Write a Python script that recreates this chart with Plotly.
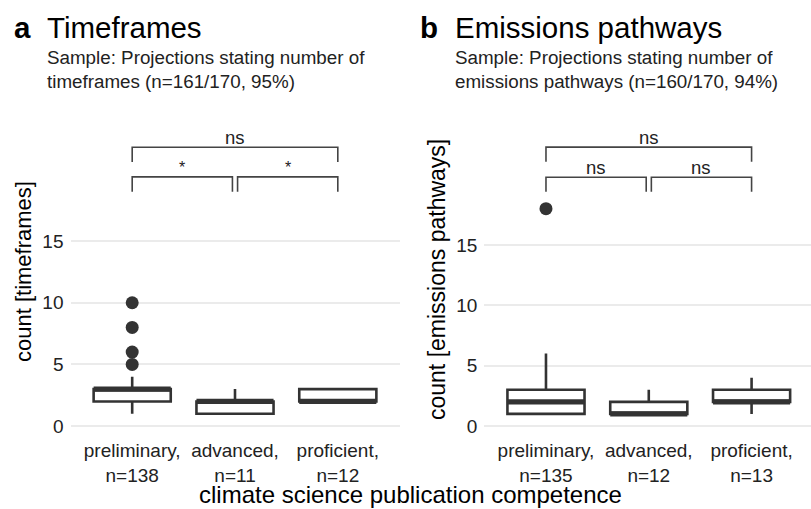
import plotly.graph_objects as go

# ---------------- data ----------------
categories = ["preliminary", "advanced", "proficient"]
n_time = [138, 11, 12]
n_emis = [135, 12, 13]

# panel a: timeframes (box statistics)
time_lower = [1, 1, 2]
time_q1 = [2, 1, 2]
time_median = [3, 2, 2]
time_q3 = [3, 2, 3]
time_upper = [4, 3, 3]
time_outliers = {"preliminary": [5, 6, 8, 10], "advanced": [], "proficient": []}

# panel b: emissions pathways (box statistics)
emis_lower = [1, 1, 1]
emis_q1 = [1, 1, 2]
emis_median = [2, 1, 2]
emis_q3 = [3, 2, 3]
emis_upper = [6, 3, 4]
emis_outliers = {"preliminary": [18], "advanced": [], "proficient": []}

# significance labels: (from, to, label)
time_sig = [(1, 3, "ns"), (1, 2, "*"), (2, 3, "*")]
emis_sig = [(1, 3, "ns"), (1, 2, "ns"), (2, 3, "ns")]

y_ticks = [0, 5, 10, 15]

FONT = "Liberation Sans, Arial, sans-serif"
DARK = "#333333"
W, H = 811, 509

fig = go.Figure()

BOXW = 0.75


def add_panel(xa, ya, lower, q1, med, q3, upper, outliers, sig, levels):
    xs = [1, 2, 3]
    for i, c in enumerate(categories):
        fig.add_trace(go.Box(
            x=[xs[i]], q1=[q1[i]], median=[med[i]], q3=[q3[i]],
            lowerfence=[lower[i]], upperfence=[upper[i]],
            width=BOXW, fillcolor="white",
            line=dict(color=DARK, width=2.6), whiskerwidth=0,
            boxpoints=False, xaxis=xa, yaxis=ya, showlegend=False,
            hoverinfo="skip"))
        # thick median line
        fig.add_trace(go.Scatter(
            x=[xs[i] - BOXW / 2, xs[i] + BOXW / 2], y=[med[i], med[i]],
            mode="lines", line=dict(color=DARK, width=5.2),
            xaxis=xa, yaxis=ya, showlegend=False, hoverinfo="skip"))
        if outliers[c]:
            fig.add_trace(go.Scatter(
                x=[xs[i]] * len(outliers[c]), y=outliers[c], mode="markers",
                marker=dict(color=DARK, size=13),
                xaxis=xa, yaxis=ya, showlegend=False, hoverinfo="skip"))
    # significance brackets
    top, top_tip, low, low_tip = levels
    for (a, b, lab) in sig:
        if a == 1 and b == 3:
            yb, yt = top, top_tip
            x0, x1 = a, b
        else:
            yb, yt = low, low_tip
            x0 = a + (0.025 if a == 2 else 0)
            x1 = b - (0.025 if b == 2 else 0)
        fig.add_trace(go.Scatter(
            x=[x0, x0, x1, x1], y=[yt, yb, yb, yt], mode="lines",
            line=dict(color="#444444", width=1.6),
            xaxis=xa, yaxis=ya, showlegend=False, hoverinfo="skip"))
        fig.add_annotation(
            x=(x0 + x1) / 2, y=yb, xref=xa, yref=ya, text=lab,
            showarrow=False, yanchor="bottom", yshift=-1 if lab == "*" else -3,
            font=dict(family=FONT, size=18.5 if lab == "ns" else 16, color="#222222"))


add_panel("x", "y", time_lower, time_q1, time_median, time_q3, time_upper,
          time_outliers, time_sig, (22.6, 21.4, 20.2, 19.0))
add_panel("x2", "y2", emis_lower, emis_q1, emis_median, emis_q3, emis_upper,
          emis_outliers, emis_sig, (23.1, 21.9, 20.6, 19.4))

tick_a = [f"{c},<br>n={n}" for c, n in zip(categories, n_time)]
tick_b = [f"{c},<br>n={n}" for c, n in zip(categories, n_emis)]

ydom = [(H - 436) / H, (H - 130) / H]
common_x = dict(tickvals=[1, 2, 3], showgrid=False, zeroline=False,
                showline=False, ticks="", ticklabelstandoff=1,
                tickfont=dict(family=FONT, size=19, color="#222222"))
common_y = dict(tickvals=y_ticks, showgrid=True, gridcolor="#EBEBEB",
                gridwidth=2, zeroline=False, showline=False, ticks="",
                ticklabelstandoff=6,
                tickfont=dict(family=FONT, size=19, color="#222222"))

fig.update_layout(
    width=W, height=H, margin=dict(l=0, r=0, t=0, b=0),
    paper_bgcolor="white", plot_bgcolor="white", showlegend=False,
    xaxis=dict(domain=[70.5 / W, 399.5 / W], range=[0.4, 3.6],
               ticktext=tick_a, anchor="y", **common_x),
    yaxis=dict(domain=ydom, range=[-0.8, 24.0], anchor="x", **common_y),
    xaxis2=dict(domain=[484.3 / W, 1.0], range=[0.4, 3.578],
                ticktext=tick_b, anchor="y2", **common_x),
    yaxis2=dict(domain=ydom, range=[-0.83, 24.52], anchor="x2", **common_y),
)


def paper_y(py):
    return 1 - py / H


# titles
titles = [
    (12, "<b>a</b>", 45, "Timeframes",
     "Sample: Projections stating number of<br>timeframes (n=161/170, 95%)"),
    (418, "<b>b</b>", 453, "Emissions pathways",
     "Sample: Projections stating number of<br>emissions pathways (n=160/170, 94%)"),
]
for lx, lt, tx, tt, st in titles:
    fig.add_annotation(x=lx / W, y=paper_y(27), xref="paper", yref="paper",
                       text=lt, showarrow=False, xanchor="left", yanchor="middle",
                       font=dict(family=FONT, size=29.5, color="black"))
    fig.add_annotation(x=tx / W, y=paper_y(27), xref="paper", yref="paper",
                       text=tt, showarrow=False, xanchor="left", yanchor="middle",
                       font=dict(family=FONT, size=29.5, color="black"))
    fig.add_annotation(x=tx / W, y=paper_y(45), xref="paper", yref="paper",
                       text=st, showarrow=False, xanchor="left", yanchor="top",
                       align="left",
                       font=dict(family=FONT, size=18.8, color="#222222"))

# axis titles
fig.add_annotation(x=23 / W, y=paper_y(272), xref="paper", yref="paper",
                   text="count [timeframes]", textangle=-90, showarrow=False,
                   xanchor="center", yanchor="middle",
                   font=dict(family=FONT, size=22, color="black"))
fig.add_annotation(x=437 / W, y=paper_y(280), xref="paper", yref="paper",
                   text="count [emissions pathways]", textangle=-90, showarrow=False,
                   xanchor="center", yanchor="middle",
                   font=dict(family=FONT, size=23, color="black"))
fig.add_annotation(x=410 / W, y=0, xref="paper", yref="paper",
                   text="climate science publication competence", showarrow=False,
                   xanchor="center", yanchor="bottom", borderpad=0,
                   font=dict(family=FONT, size=24, color="black"))

fig.write_html("out.html")
